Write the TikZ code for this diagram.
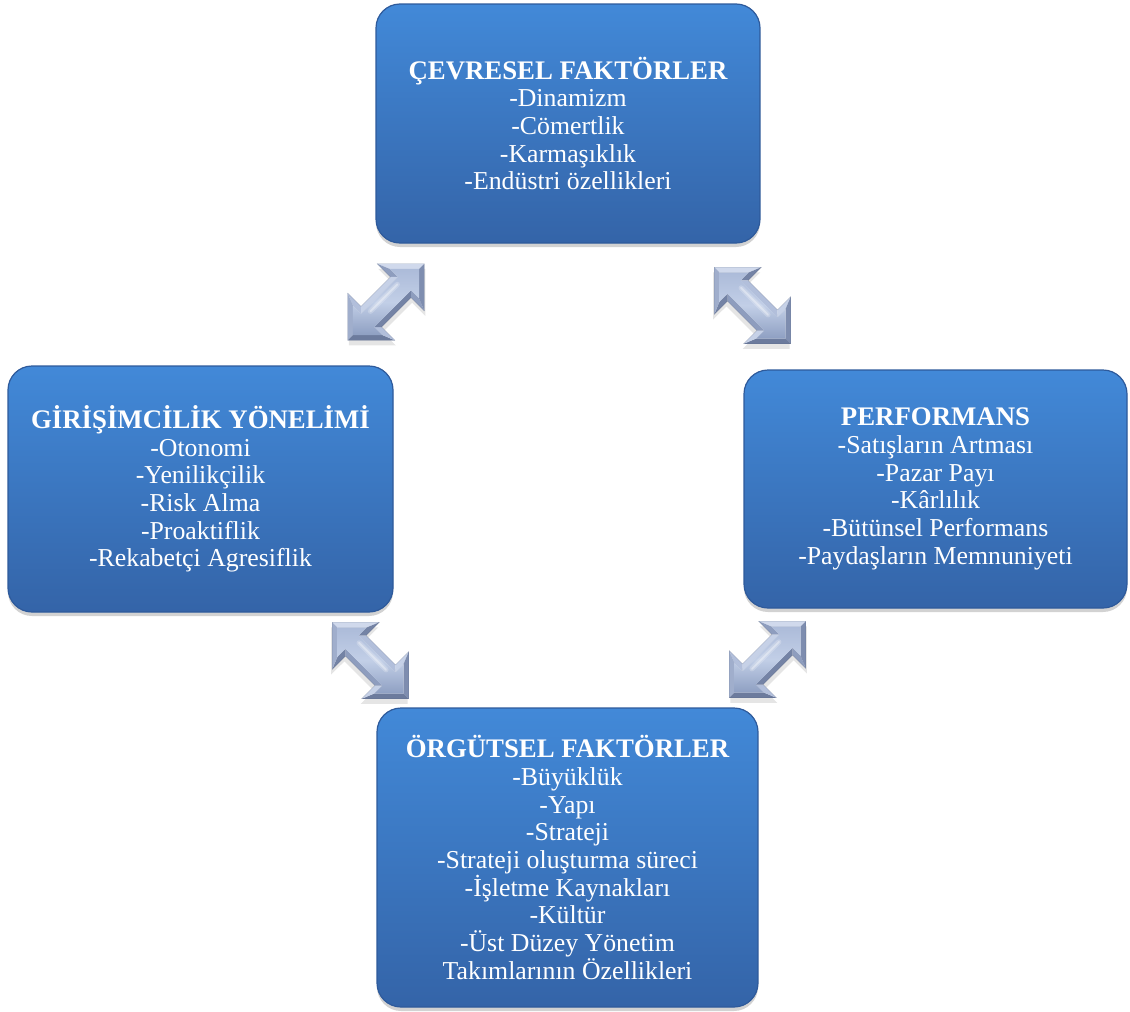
\documentclass[tikz,border=0pt]{standalone}
\usepackage{fontspec}
\setmainfont{Liberation Serif}
\usetikzlibrary{shadows,calc}

% box colours
\definecolor{boxtop}{RGB}{66,137,216}
\definecolor{boxbot}{RGB}{52,100,168}
\definecolor{boxrim}{RGB}{46,90,155}
% bevel colours of the block arrows, by the direction a face looks to
\definecolor{cUp}{RGB}{208,217,236}
\definecolor{cUL}{RGB}{198,209,231}
\definecolor{cLeft}{RGB}{160,174,204}
\definecolor{cDL}{RGB}{142,157,190}
\definecolor{cDown}{RGB}{108,123,157}
\definecolor{cDR}{RGB}{116,131,165}
\definecolor{cRight}{RGB}{126,141,175}
\definecolor{cUR}{RGB}{178,191,219}
\definecolor{arrEdge}{RGB}{172,187,217}
\definecolor{arrMid}{RGB}{194,207,231}
\definecolor{arrLow}{RGB}{142,159,194}

\tikzset{
  factorbox/.style={rectangle, rounded corners=24pt, draw=boxrim, line width=1.2pt,
    top color=boxtop, bottom color=boxbot, text=white, align=center,
    font=\fontsize{25.8}{27.7}\selectfont, inner sep=0pt,
    drop shadow={shadow xshift=0pt, shadow yshift=-4pt, opacity=0.25, fill=black!70}},
  boxtitle/.style={font=\fontsize{26.8}{27.7}\selectfont\bfseries},
  % face colours of an arrow pointing up-right / down-right
  ne faces/.code={%
    \colorlet{fA}{cUp}\colorlet{fB}{cDL}\colorlet{fC}{cUL}\colorlet{fD}{cUR}\colorlet{fE}{cLeft}%
    \colorlet{fF}{cDown}\colorlet{fG}{cUR}\colorlet{fH}{cDR}\colorlet{fI}{cDL}\colorlet{fJ}{cRight}%
    \def\arrowang{45}},
  se faces/.code={%
    \colorlet{fA}{cUp}\colorlet{fB}{cDR}\colorlet{fC}{cUR}\colorlet{fD}{cUL}\colorlet{fE}{cRight}%
    \colorlet{fF}{cDown}\colorlet{fG}{cUL}\colorlet{fH}{cDL}\colorlet{fI}{cDR}\colorlet{fJ}{cLeft}%
    \def\arrowang{-45}},
  arrow ne/.style={scale=1.04, ne faces},
  arrow se/.style={xscale=-1.04, yscale=1.04, se faces},
  pics/dblarrow/.style={code={
    % outline corners
    \coordinate (o1) at (36.8,-36.8);  \coordinate (o2) at (-8.5,-36.8);
    \coordinate (o3) at (4.24,-24.04); \coordinate (o4) at (-24.04,4.24);
    \coordinate (o5) at (-36.8,-8.5);  \coordinate (o6) at (-36.8,36.8);
    \coordinate (o7) at (8.5,36.8);    \coordinate (o8) at (-4.24,24.04);
    \coordinate (o9) at (24.04,-4.24); \coordinate (o10) at (36.8,8.5);
    % inner (bevelled) corners
    \coordinate (i1) at (31.75,-31.75); \coordinate (i2) at (3.6,-31.75);
    \coordinate (i3) at (11.3,-24.04);  \coordinate (i4) at (-24.04,11.3);
    \coordinate (i5) at (-31.75,3.6);   \coordinate (i6) at (-31.75,31.75);
    \coordinate (i7) at (-3.6,31.75);   \coordinate (i8) at (-11.3,24.04);
    \coordinate (i9) at (24.04,-11.3);  \coordinate (i10) at (31.75,-3.6);
    % soft shadow
    \fill[black, opacity=0.10] ([shift={(1,5)}]o1) -- ([shift={(1,5)}]o2) -- ([shift={(1,5)}]o3)
      -- ([shift={(1,5)}]o4) -- ([shift={(1,5)}]o5) -- ([shift={(1,5)}]o6) -- ([shift={(1,5)}]o7)
      -- ([shift={(1,5)}]o8) -- ([shift={(1,5)}]o9) -- ([shift={(1,5)}]o10) -- cycle;
    % bevel faces
    \fill[fA] (o1) -- (o2) -- (i2) -- (i1) -- cycle;
    \fill[fB] (o2) -- (o3) -- (i3) -- (i2) -- cycle;
    \fill[fC] (o3) -- (o4) -- (i4) -- (i3) -- cycle;
    \fill[fD] (o4) -- (o5) -- (i5) -- (i4) -- cycle;
    \fill[fE] (o5) -- (o6) -- (i6) -- (i5) -- cycle;
    \fill[fF] (o6) -- (o7) -- (i7) -- (i6) -- cycle;
    \fill[fG] (o7) -- (o8) -- (i8) -- (i7) -- cycle;
    \fill[fH] (o8) -- (o9) -- (i9) -- (i8) -- cycle;
    \fill[fI] (o9) -- (o10) -- (i10) -- (i9) -- cycle;
    \fill[fJ] (o10) -- (o1) -- (i1) -- (i10) -- cycle;
    % top face
    \shade[shading angle=\arrowang, top color=arrEdge, bottom color=arrLow, middle color=arrMid]
      (i1) -- (i2) -- (i3) -- (i4) -- (i5) -- (i6) -- (i7) -- (i8) -- (i9) -- (i10) -- cycle;
    % gloss along the shaft
    \draw[white, opacity=0.22, line width=5pt, line cap=round] (-15,9) -- (11,-17);
    \draw[white, opacity=0.35, line width=1.8pt, line cap=round] (-15,9) -- (11,-17);
    % thin outline
    \draw[cDown!70!black, opacity=0.35, line width=0.4pt] (o1) -- (o2) -- (o3) -- (o4) -- (o5)
      -- (o6) -- (o7) -- (o8) -- (o9) -- (o10) -- cycle;
  }}
}

\begin{document}
\begin{tikzpicture}[x=1pt, y=-1pt]
\useasboundingbox (0,0) rectangle (1130,1012);

% the four factor boxes
\node[factorbox, minimum width=384pt, minimum height=239pt] (cevre) at (568,123.5)
  {{\fontsize{26.8}{27.7}\selectfont\bfseries ÇEVRESEL FAKTÖRLER}\\-Dinamizm\\-Cömertlik\\-Karmaşıklık\\-Endüstri özellikleri};
\node[factorbox, minimum width=385pt, minimum height=246pt] (giris) at (200.5,489)
  {{\fontsize{26.8}{27.7}\selectfont\bfseries GİRİŞİMCİLİK YÖNELİMİ}\\-Otonomi\\-Yenilikçilik\\-Risk Alma\\-Proaktiflik\\-Rekabetçi Agresiflik};
\node[factorbox, minimum width=383pt, minimum height=238pt] (perf) at (935.5,489)
  {{\fontsize{26.8}{27.7}\selectfont\bfseries PERFORMANS}\\-Satışların Artması\\-Pazar Payı\\-Kârlılık\\-Bütünsel Performans\\-Paydaşların Memnuniyeti};
\node[factorbox, minimum width=381pt, minimum height=299pt] (orgut) at (567.5,857.5)
  {{\fontsize{26.8}{27.7}\selectfont\bfseries ÖRGÜTSEL FAKTÖRLER}\\-Büyüklük\\-Yapı\\-Strateji\\-Strateji oluşturma süreci\\-İşletme Kaynakları\\-Kültür\\-Üst Düzey Yönetim\\Takımlarının Özellikleri};

% two-way block arrows between neighbouring boxes
\coordinate (cevre-giris) at (386,302);
\coordinate (cevre-perf)  at (752.5,305.5);
\coordinate (giris-orgut) at (370.5,660.5);
\coordinate (perf-orgut)  at (767.5,659.5);

\pic[arrow ne] at (cevre-giris) {dblarrow};
\pic[arrow se] at (cevre-perf) {dblarrow};
\pic[arrow se] at (giris-orgut) {dblarrow};
\pic[arrow ne] at (perf-orgut) {dblarrow};
\end{tikzpicture}
\end{document}
